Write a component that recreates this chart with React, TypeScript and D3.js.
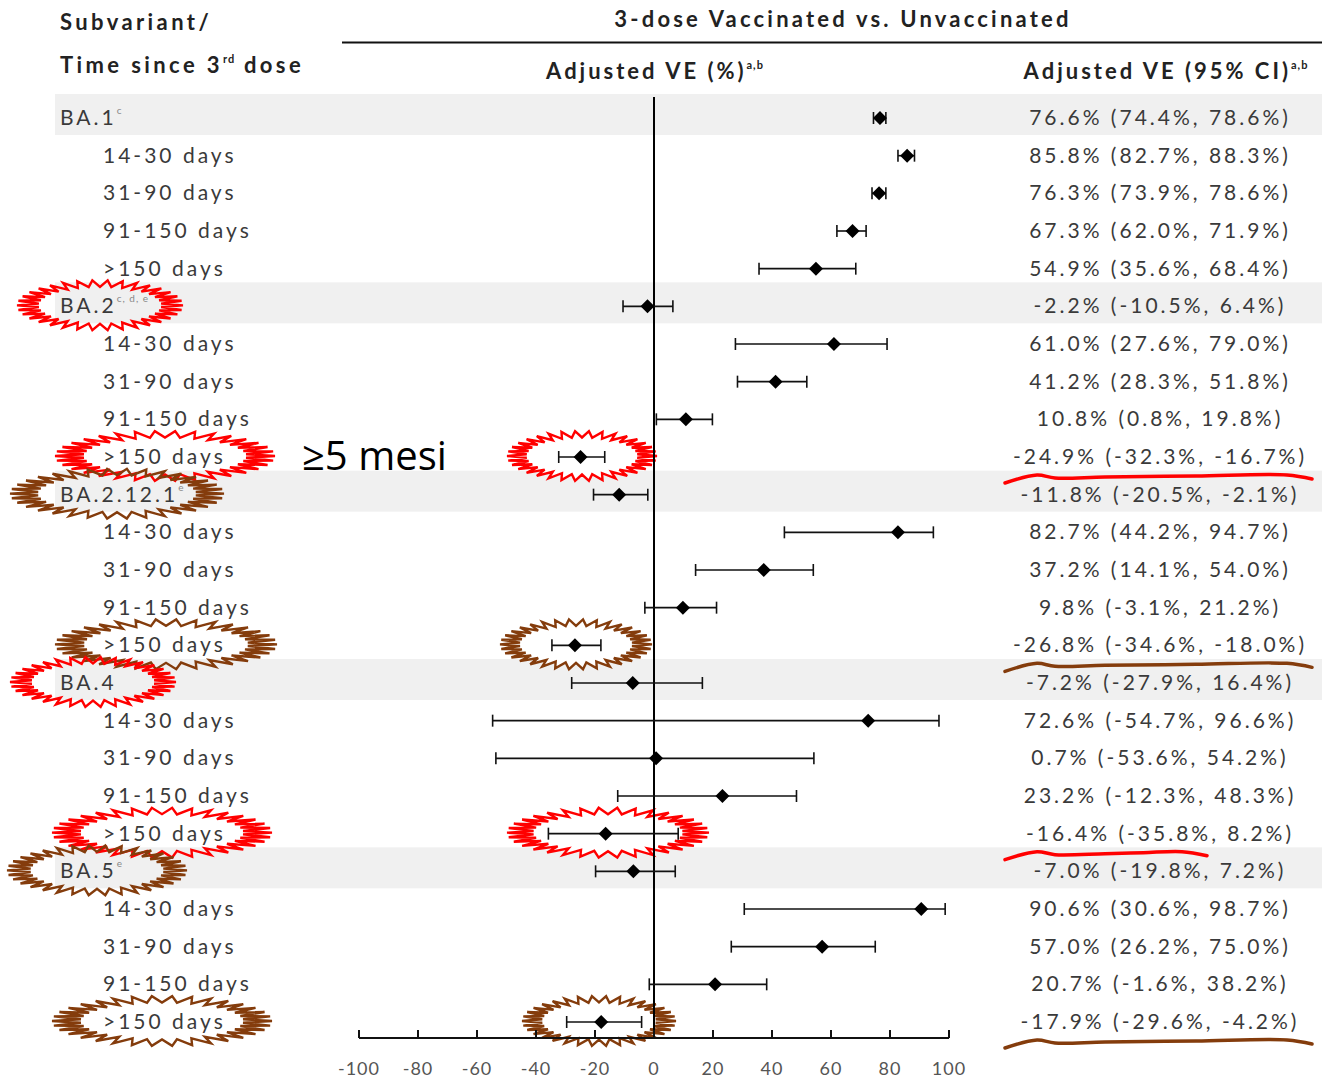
import React from "react";
import * as d3 from "d3";

const rowLabels = [
  "BA.1", "14-30 days", "31-90 days", "91-150 days", ">150 days",
  "BA.2", "14-30 days", "31-90 days", "91-150 days", ">150 days",
  "BA.2.12.1", "14-30 days", "31-90 days", "91-150 days", ">150 days",
  "BA.4", "14-30 days", "31-90 days", "91-150 days", ">150 days",
  "BA.5", "14-30 days", "31-90 days", "91-150 days", ">150 days",
];
const rowSup = ["c", "", "", "", "", "c, d, e", "", "", "", "", "e", "", "", "", "", "", "", "", "", "", "e", "", "", "", ""];
const isGroup = [1, 0, 0, 0, 0, 1, 0, 0, 0, 0, 1, 0, 0, 0, 0, 1, 0, 0, 0, 0, 1, 0, 0, 0, 0];
const veValues = [76.6, 85.8, 76.3, 67.3, 54.9, -2.2, 61.0, 41.2, 10.8, -24.9, -11.8, 82.7, 37.2, 9.8, -26.8, -7.2, 72.6, 0.7, 23.2, -16.4, -7.0, 90.6, 57.0, 20.7, -17.9];
const ciLow = [74.4, 82.7, 73.9, 62.0, 35.6, -10.5, 27.6, 28.3, 0.8, -32.3, -20.5, 44.2, 14.1, -3.1, -34.6, -27.9, -54.7, -53.6, -12.3, -35.8, -19.8, 30.6, 26.2, -1.6, -29.6];
const ciHigh = [78.6, 88.3, 78.6, 71.9, 68.4, 6.4, 79.0, 51.8, 19.8, -16.7, -2.1, 94.7, 54.0, 21.2, -18.0, 16.4, 96.6, 54.2, 48.3, 8.2, 7.2, 98.7, 75.0, 38.2, -4.2];
const axisTicks = [-100, -80, -60, -40, -20, 0, 20, 40, 60, 80, 100];

// starburst annotations
const starRows = [5, 9, 9, 10, 14, 14, 15, 19, 19, 20, 24, 24];
const starKinds = ["label", "label", "marker", "label", "label", "marker", "label", "label", "marker", "label", "label", "marker"];
const starColors = ["red", "red", "red", "brown", "brown", "brown", "red", "red", "red", "brown", "brown", "brown"];
const underlineRows = [9, 14, 19, 24];
const underlineColors = ["red", "brown", "red", "brown"];

// style: star centres / radii (px)
const STAR_CX = [100, 165, 582, 117, 166, 576, 93, 162, 608, 97, 162, 599];
const STAR_RX = [83, 110, 75, 107, 111, 76, 83, 110, 101, 90, 110, 77];

const fmt = (v: number) => `${v.toFixed(1)}%`;
const RED = "#ff0000";
const BROWN = "#843c0c";
const FONT = "Lato, 'Open Sans', sans-serif";

function starPath(cx: number, cy: number, rx: number, ry: number, n: number, inner: number) {
  const pts: [number, number][] = [];
  for (let i = 0; i < n * 2; i++) {
    const a = (Math.PI * i) / n;
    const r = i % 2 === 0 ? 1 : inner;
    pts.push([cx + Math.cos(a) * rx * r, cy + Math.sin(a) * ry * r]);
  }
  return "M" + pts.map((p) => p.map((q) => q.toFixed(2)).join(",")).join("L") + "Z";
}

export default function App() {
  const W = 1322, H = 1078;
  const x = d3.scaleLinear().domain([-100, 100]).range([359, 949]);
  const y = d3.scalePoint<number>().domain(d3.range(rowLabels.length)).range([118, 1022]);
  const axisY = 1038;
  const textX = 1160;
  const ulLine = d3.line<[number, number]>().curve(d3.curveCatmullRom);

  return (
    <svg width={W} height={H} style={{ position: "absolute", left: 0, top: 0, background: "#fff" }} fontFamily={FONT}>
      {/* header */}
      <text x={60} y={30} fontSize={22} fontWeight={700} fill="#222" letterSpacing={3.4}>Subvariant/</text>
      <text x={60} y={73} fontSize={22} fontWeight={700} fill="#222" letterSpacing={3.4}>
        Time since 3<tspan fontSize={11} dy={-10} letterSpacing={1}>rd</tspan><tspan dy={10}> dose</tspan>
      </text>
      <text x={843} y={27} fontSize={22} fontWeight={700} fill="#222" textAnchor="middle" letterSpacing={3.2}>3-dose Vaccinated vs. Unvaccinated</text>
      <line x1={342} x2={1322} y1={42.5} y2={42.5} stroke="#111" strokeWidth={2} />
      <text x={655} y={79} fontSize={22} fontWeight={700} fill="#222" textAnchor="middle" letterSpacing={3}>
        Adjusted VE (%)<tspan fontSize={11} dy={-10} letterSpacing={1}>a,b</tspan>
      </text>
      <text x={1166} y={79} fontSize={22} fontWeight={700} fill="#222" textAnchor="middle" letterSpacing={3}>
        Adjusted VE (95% CI)<tspan fontSize={11} dy={-10} letterSpacing={1}>a,b</tspan>
      </text>

      {/* bands */}
      {rowLabels.map((_, i) =>
        isGroup[i] ? <rect key={"b" + i} x={55} y={y(i)! - 24} width={W - 55} height={41} fill="#f0f0f0" /> : null
      )}

      {/* stars */}
      {starRows.map((row, i) => (
        <path key={"s" + i}
          d={starPath(STAR_CX[i], y(row)! - 1, STAR_RX[i], 25, 34, 0.74)}
          fill={starKinds[i] === "marker" ? "#fff" : "none"}
          stroke={starColors[i] === "red" ? RED : BROWN} strokeWidth={2.4} strokeLinejoin="miter" />
      ))}

      {/* labels */}
      {rowLabels.map((lab, i) => (
        <text key={"l" + i} x={isGroup[i] ? 60 : 103} y={y(i)! + 7} fontSize={21} fill="#3a3a3a" letterSpacing={3}>
          {lab}
          {rowSup[i] ? <tspan fontSize={10} dy={-11} fill="#888" letterSpacing={1}>{rowSup[i]}</tspan> : null}
        </text>
      ))}

      {/* zero line */}
      <line x1={x(0)} x2={x(0)} y1={97} y2={axisY} stroke="#000" strokeWidth={2} />

      {/* error bars and markers */}
      {veValues.map((v, i) => {
        const cy = y(i)!;
        return (
          <g key={"e" + i}>
            <line x1={x(ciLow[i])} x2={x(ciHigh[i])} y1={cy} y2={cy} stroke="#111" strokeWidth={1.6} />
            <line x1={x(ciLow[i])} x2={x(ciLow[i])} y1={cy - 6} y2={cy + 6} stroke="#111" strokeWidth={1.6} />
            <line x1={x(ciHigh[i])} x2={x(ciHigh[i])} y1={cy - 6} y2={cy + 6} stroke="#111" strokeWidth={1.6} />
            <path d={`M${x(v)},${cy - 7}L${x(v) + 7},${cy}L${x(v)},${cy + 7}L${x(v) - 7},${cy}Z`} fill="#000" />
          </g>
        );
      })}

      {/* VE text */}
      {veValues.map((v, i) => (
        <text key={"t" + i} x={textX} y={y(i)! + 7} fontSize={21} fill="#3a3a3a" textAnchor="middle" letterSpacing={3}>
          {`${fmt(v)} (${fmt(ciLow[i])}, ${fmt(ciHigh[i])})`}
        </text>
      ))}

      {/* axis */}
      <line x1={x(-100)} x2={x(100)} y1={axisY} y2={axisY} stroke="#111" strokeWidth={2} />
      {axisTicks.map((t) => (
        <g key={"k" + t}>
          <line x1={x(t)} x2={x(t)} y1={axisY} y2={axisY - 8} stroke="#111" strokeWidth={2} />
          <text x={x(t)} y={axisY + 37} fontSize={18} fill="#555" textAnchor="middle" letterSpacing={1}>{t}</text>
        </g>
      ))}

      {/* annotation text */}
      <text x={302} y={470} fontSize={40} fill="#000" fontFamily="'Open Sans', sans-serif">≥5 mesi</text>

      {/* underlines */}
      {underlineRows.map((row, i) => {
        const base = y(row)! + 24;
        const x0 = 1005;
        const x1 = row === 19 ? 1207 : 1312;
        const pts: [number, number][] = [
          [x0, base + 2], [x0 + 32, base - 6], [x0 + 50, base - 3], [x0 + 100, base - 4],
          [(x0 + 100 + x1 - 25) / 2, base - 5], [x1 - 25, base - 6], [x1, base - 2],
        ];
        return (
          <path key={"u" + i} d={ulLine(pts)!} fill="none"
            stroke={underlineColors[i] === "red" ? RED : BROWN} strokeWidth={3.5} strokeLinecap="round" />
        );
      })}
    </svg>
  );
}
